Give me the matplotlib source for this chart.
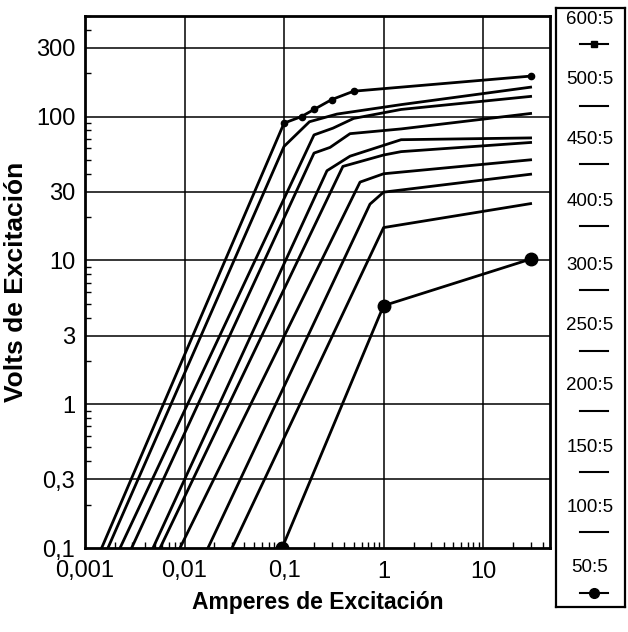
import matplotlib
matplotlib.use("Agg")
import matplotlib.pyplot as plt
from matplotlib.ticker import FixedLocator, NullFormatter, LogLocator
import numpy as np

# ---------------- data ----------------
ratios = ["600:5", "500:5", "450:5", "400:5", "300:5", "250:5", "200:5", "150:5", "100:5", "50:5"]

x_600 = [0.00147, 0.1, 0.15, 0.2, 0.3, 0.5, 30]
y_600 = [0.1, 90, 100, 112, 131, 150, 191]

x_500 = [0.0017, 0.1, 0.18, 0.34, 1.5, 30]
y_500 = [0.1, 62, 92, 104, 121, 160]

x_450 = [0.00225, 0.2, 0.31, 0.5, 1.5, 30]
y_450 = [0.1, 74.5, 83, 97, 112, 138]

x_400 = [0.00294, 0.2, 0.29, 0.46, 1.5, 30]
y_400 = [0.1, 55.7, 61, 76, 82, 105]

x_300 = [0.00482, 0.27, 0.46, 1.5, 30]
y_300 = [0.1, 42, 53, 69, 71]

x_250 = [0.00568, 0.39, 1.0, 1.5, 30]
y_250 = [0.1, 45, 54, 57, 66]

x_200 = [0.009, 0.58, 1.0, 30]
y_200 = [0.1, 35, 40, 50]

x_150 = [0.0172, 0.73, 1.0, 30]
y_150 = [0.1, 24.6, 29.8, 39.7]

x_100 = [0.030, 1.0, 30]
y_100 = [0.1, 16.9, 24.8]

x_50 = [0.0955, 1.0, 30]
y_50 = [0.1, 4.84, 10.2]

series_x = [x_600, x_500, x_450, x_400, x_300, x_250, x_200, x_150, x_100, x_50]
series_y = [y_600, y_500, y_450, y_400, y_300, y_250, y_200, y_150, y_100, y_50]

x_ticks = [0.001, 0.01, 0.1, 1, 10]
x_ticklabels = ["0,001", "0,01", "0,1", "1", "10"]
y_ticks = [0.1, 0.3, 1, 3, 10, 30, 100, 300]
y_ticklabels = ["0,1", "0,3", "1", "3", "10", "30", "100", "300"]

# ---------------- figure ----------------
SANS = ['Liberation Sans', 'DejaVu Sans']
plt.rcParams['font.family'] = SANS

fig = plt.figure(figsize=(6.28, 6.32), dpi=100)
W, H = 628, 632
ax = fig.add_axes([85 / W, 1 - 548 / H, (550 - 85) / W, (548 - 16) / H])
ax.set_xscale('log')
ax.set_yscale('log')
ax.set_xlim(0.001, 47)
ax.set_ylim(0.1, 500)

for i, (xs, ys) in enumerate(zip(series_x, series_y)):
    if i == 0:
        ax.plot(xs, ys, color='black', lw=2, marker='o', ms=4.5,
                markevery=list(range(1, len(xs))))
    elif i == len(series_x) - 1:
        ax.plot(xs, ys, color='black', lw=2, marker='o', ms=9)
    else:
        ax.plot(xs, ys, color='black', lw=2)

ax.xaxis.set_major_locator(FixedLocator(x_ticks))
ax.set_xticklabels(x_ticklabels)
ax.xaxis.set_minor_locator(LogLocator(base=10, subs=np.arange(2, 10)))
ax.xaxis.set_minor_formatter(NullFormatter())
ax.yaxis.set_major_locator(FixedLocator(y_ticks))
ax.set_yticklabels(y_ticklabels)
ax.yaxis.set_minor_locator(LogLocator(base=10, subs=[2, 4, 5, 6, 7, 8, 9]))
ax.yaxis.set_minor_formatter(NullFormatter())

ax.tick_params(which='major', direction='in', length=0, labelsize=17)
ax.tick_params(axis='y', which='major', pad=7)
ax.tick_params(axis='x', which='major', pad=9)
ax.tick_params(which='minor', direction='in', length=4, width=1)
ax.tick_params(axis='x', which='minor', top=False)

for xv in x_ticks[1:]:
    ax.axvline(xv, color='black', lw=1.1, zorder=0)
for yv in y_ticks[1:]:
    ax.axhline(yv, color='black', lw=1.1, zorder=0)

for s in ax.spines.values():
    s.set_linewidth(2)

ax.set_xlabel("Amperes de Excitación", fontsize=16.5, fontweight='bold', labelpad=6)
ax.set_ylabel("Volts de Excitación", fontsize=19, fontweight='bold', labelpad=6)

# ---------------- legend box ----------------
lax = fig.add_axes([556 / W, 1 - 607 / H, (625 - 556) / W, (607 - 8) / H])
lax.set_xlim(0, 1)
lax.set_ylim(607, 8)
lax.set_xticks([])
lax.set_yticks([])
for s in lax.spines.values():
    s.set_linewidth(1.6)
text_y = [20, 79, 140, 201, 266, 326, 386, 448, 508, 567]
line_y = [44, 106, 164, 226, 290, 351, 411, 472, 532, 593]
for i, lab in enumerate(ratios):
    lax.text(0.49, text_y[i], lab, ha='center', va='center', fontsize=13.5)
    lax.plot([0.35, 0.75], [line_y[i], line_y[i]], color='black', lw=1.5)
    if i == 0:
        lax.plot([0.55], [line_y[i]], color='black', marker='s', ms=4)
    elif i == len(ratios) - 1:
        lax.plot([0.55], [line_y[i]], color='black', marker='o', ms=7)

fig.savefig("out.png", dpi=100)
